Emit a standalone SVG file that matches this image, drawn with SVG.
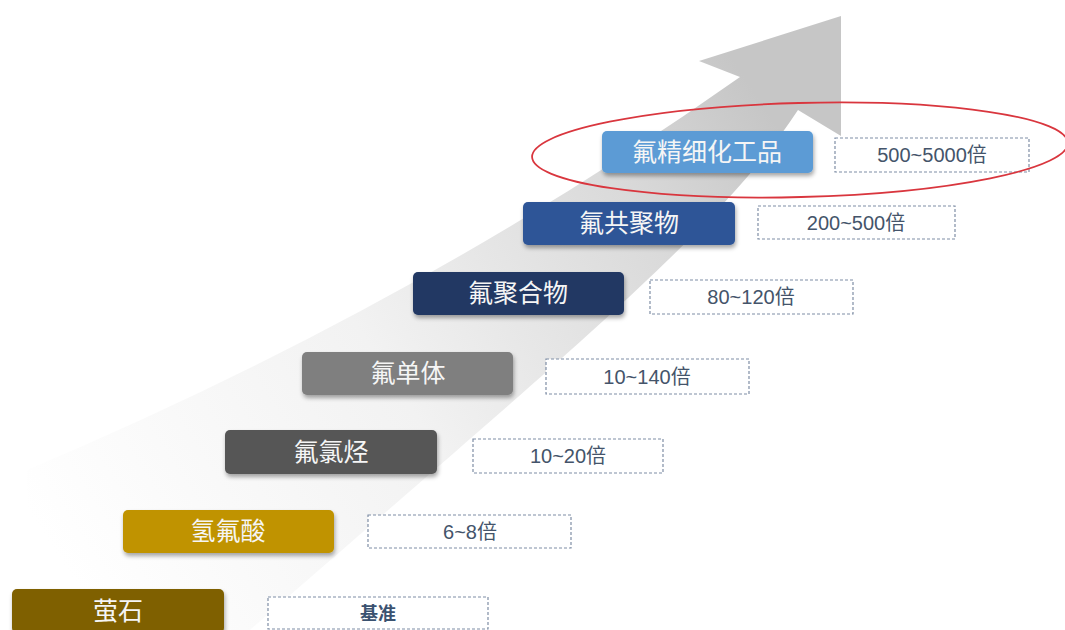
<svg xmlns="http://www.w3.org/2000/svg" width="1065" height="630" viewBox="0 0 1065 630">
  <defs>
    <linearGradient id="arrowGrad" gradientUnits="userSpaceOnUse" x1="60" y1="560" x2="760" y2="100">
      <stop offset="0" stop-color="#ffffff"/>
      <stop offset="0.45" stop-color="#f2f2f2"/>
      <stop offset="0.8" stop-color="#dadada"/>
      <stop offset="1" stop-color="#c6c6c6"/>
    </linearGradient>
    <filter id="sh" x="-10%" y="-20%" width="120%" height="160%">
      <feDropShadow dx="1" dy="3" stdDeviation="2" flood-color="#000000" flood-opacity="0.35"/>
    </filter>
    <style>
      .box { filter: url(#sh); }
      .lbl { font-family: "Noto Sans CJK SC", "Noto Sans", sans-serif; font-size: 25px; fill: #f5f5f5; text-anchor: middle; }
      .val { fill: #ffffff; stroke: #7f8ea5; stroke-width: 1.2; stroke-dasharray: 3 2; }
      .vt { font-family: "Liberation Sans", "Noto Sans CJK SC", sans-serif; font-size: 20px; fill: #44546a; text-anchor: middle; }
      .vtc { font-family: "Noto Sans CJK SC", sans-serif; font-size: 18px; font-weight: bold; fill: #3b5270; text-anchor: middle; }
    </style>
  </defs>
  <rect x="0" y="0" width="1065" height="630" fill="#ffffff"/>

  <g id="connectors">
    <path id="growth-arrow" d="M 841,16 L 699,61 L 740,77 Q 416,306 27,470 L 27,630 L 250,630 C 560,360 720,230 798,110 L 841,136 Z" fill="url(#arrowGrad)"/>
  </g>

  <g id="node-yingshi">
    <rect class="box" x="12" y="589" width="212" height="44" rx="5" fill="#7f6000"/>
    <text class="lbl" x="118" y="620">萤石</text>
    <rect class="val" x="268" y="597" width="220" height="32"/>
    <text class="vtc" x="378" y="620">基准</text>
  </g>

  <g id="node-qingfusuan">
    <rect class="box" x="123" y="510" width="211" height="43" rx="5" fill="#c09300"/>
    <text class="lbl" x="228" y="540">氢氟酸</text>
    <rect class="val" x="368" y="515" width="203" height="33"/>
    <text class="vt" x="470" y="539">6~8倍</text>
  </g>

  <g id="node-fulvting">
    <rect class="box" x="225" y="430" width="212" height="44" rx="5" fill="#565656"/>
    <text class="lbl" x="331" y="461">氟氯烃</text>
    <rect class="val" x="473" y="439" width="190" height="34"/>
    <text class="vt" x="568" y="463">10~20倍</text>
  </g>

  <g id="node-fudanti">
    <rect class="box" x="302" y="352" width="211" height="43" rx="5" fill="#7f7f7f"/>
    <text class="lbl" x="408" y="382">氟单体</text>
    <rect class="val" x="546" y="359" width="203" height="35"/>
    <text class="vt" x="647" y="384">10~140倍</text>
  </g>

  <g id="node-fujuhewu">
    <rect class="box" x="413" y="272" width="211" height="43" rx="5" fill="#203864"/>
    <text class="lbl" x="518" y="302">氟聚合物</text>
    <rect class="val" x="650" y="280" width="203" height="34"/>
    <text class="vt" x="751" y="304">80~120倍</text>
  </g>

  <g id="node-fugongjuwu">
    <rect class="box" x="523" y="202" width="212" height="43" rx="5" fill="#2f5597"/>
    <text class="lbl" x="629" y="232">氟共聚物</text>
    <rect class="val" x="758" y="206" width="197" height="33"/>
    <text class="vt" x="856" y="230">200~500倍</text>
  </g>

  <g id="node-fujingxi">
    <rect class="box" x="602" y="131" width="211" height="42" rx="5" fill="#5b9bd5"/>
    <text class="lbl" x="707" y="161">氟精细化工品</text>
    <rect class="val" x="835" y="138" width="194" height="34"/>
    <text class="vt" x="932" y="162">500~5000倍</text>
  </g>

  <g id="highlight">
    <ellipse cx="800" cy="150" rx="268" ry="47" fill="none" stroke="#d9363e" stroke-width="1.8" transform="rotate(-1.5 800 150)"/>
  </g>
</svg>
